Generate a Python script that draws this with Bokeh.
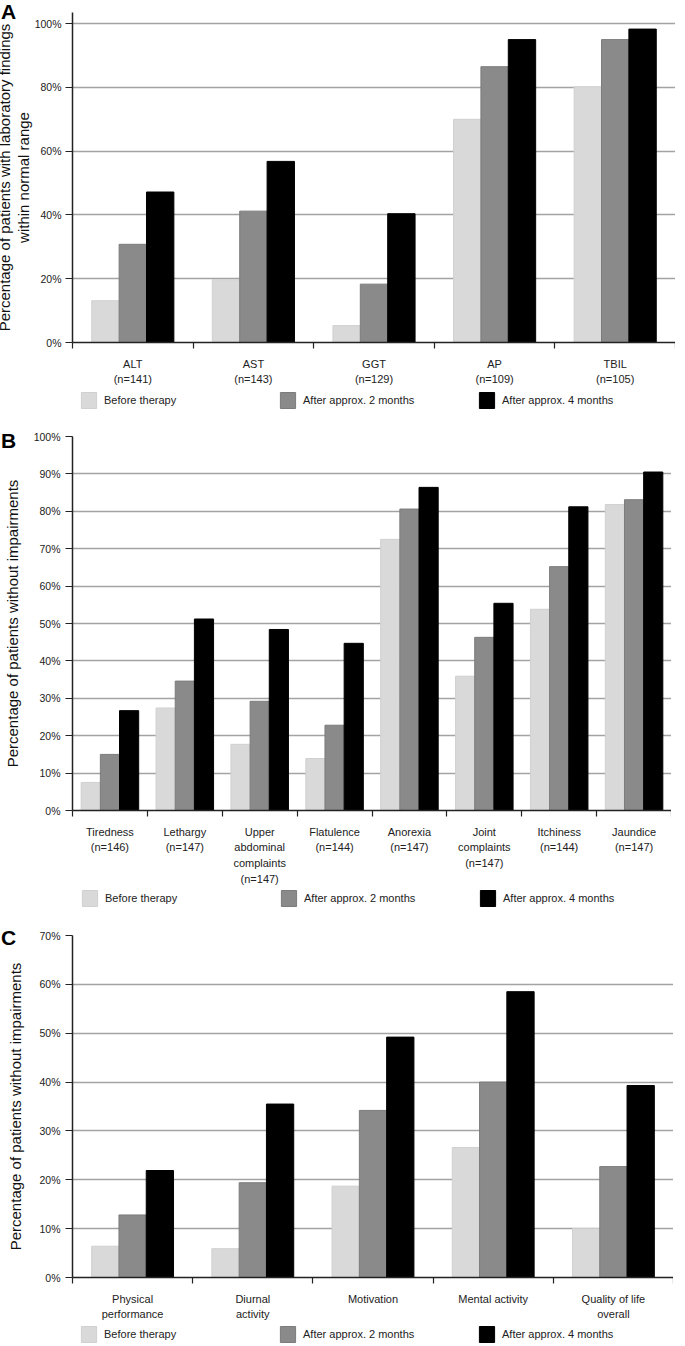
import numpy as np
from bokeh.plotting import figure
from bokeh.models import (Range1d, FixedTicker, PrintfTickFormatter, Legend,
                          LegendItem, ColumnDataSource, Div)
from bokeh.layouts import column
from bokeh.transform import dodge
from bokeh.embed import file_html
from bokeh.resources import INLINE

FONT = "Liberation Sans"

series = ["Before therapy", "After approx. 2 months", "After approx. 4 months"]
colors = ["#d9d9d9", "#8a8a8a", "#000000"]
line_colors = ["#d0d0d0", "#7c7c7c", "#000000"]
keys = ["before", "m2", "m4"]

# Panel A: laboratory findings within normal range (%)
a_cats = ["ALT\n(n=141)", "AST\n(n=143)", "GGT\n(n=129)", "AP\n(n=109)", "TBIL\n(n=105)"]
a_before = [13.1, 19.7, 5.3, 70.0, 80.2]
a_2m = [30.8, 41.2, 18.3, 86.5, 95.0]
a_4m = [47.2, 56.8, 40.4, 95.0, 98.3]
a_ticks = [0, 20, 40, 60, 80, 100]

# Panel B: patients without impairments (%)
b_cats = ["Tiredness\n(n=146)", "Lethargy\n(n=147)", "Upper\nabdominal\ncomplaints\n(n=147)",
          "Flatulence\n(n=144)", "Anorexia\n(n=147)", "Joint\ncomplaints\n(n=147)",
          "Itchiness\n(n=144)", "Jaundice\n(n=147)"]
b_before = [7.5, 27.4, 17.7, 13.9, 72.5, 35.9, 53.8, 81.8]
b_2m = [15.0, 34.6, 29.2, 22.8, 80.6, 46.3, 65.2, 83.1]
b_4m = [26.7, 51.2, 48.4, 44.7, 86.4, 55.4, 81.2, 90.5]
b_ticks = [0, 10, 20, 30, 40, 50, 60, 70, 80, 90, 100]

# Panel C: patients without impairments (%)
c_cats = ["Physical\nperformance", "Diurnal\nactivity", "Motivation", "Mental activity",
          "Quality of life\noverall"]
c_before = [6.4, 5.9, 18.7, 26.6, 10.0]
c_2m = [12.8, 19.4, 34.2, 40.0, 22.7]
c_4m = [21.9, 35.5, 49.2, 58.5, 39.3]
c_ticks = [0, 10, 20, 30, 40, 50, 60, 70]


def make_source(cats, vals):
    data = {"x": [i + 0.5 for i in range(len(cats))]}
    for k, v in zip(keys, vals):
        data[k] = v
    return ColumnDataSource(data)


def make_panel(cats, src, ticks, y_end, ylabel, bar_w, width, b_left, b_top, frame_h,
               b_bottom, label_standoff, title_lh, tick_standoff):
    n = len(cats)
    centers = [i + 0.5 for i in range(n)]
    p = figure(width=width, height=b_top + frame_h + b_bottom,
               x_range=Range1d(0, n), y_range=Range1d(0, y_end),
               output_backend="svg", toolbar_location=None,
               min_border_left=b_left, min_border_right=0,
               min_border_top=b_top, min_border_bottom=b_bottom)
    p.outline_line_color = None
    p.background_fill_color = "white"

    for i, k in enumerate(keys):
        p.vbar(x=dodge("x", (i - 1) * bar_w, range=p.x_range), top=k, width=bar_w,
               source=src, fill_color=colors[i], line_color=line_colors[i], line_width=1)

    ya = p.yaxis[0]
    ya.ticker = FixedTicker(ticks=ticks, minor_ticks=[])
    ya.formatter = PrintfTickFormatter(format="%d%%")
    ya.axis_line_color = "#222222"
    ya.axis_line_width = 1.5
    ya.major_tick_line_color = "#222222"
    ya.major_tick_line_width = 1.2
    ya.major_tick_out = 7
    ya.major_tick_in = 0
    ya.minor_tick_line_color = None
    ya.major_label_text_font = FONT
    ya.major_label_text_font_size = "10.5px"
    ya.major_label_text_color = "#222222"
    ya.major_label_standoff = tick_standoff
    ya.axis_label = ylabel
    ya.axis_label_text_font = FONT
    ya.axis_label_text_font_style = "normal"
    ya.axis_label_text_font_size = "15px"
    ya.axis_label_text_line_height = title_lh
    ya.axis_label_text_color = "#111111"
    ya.axis_label_standoff = label_standoff

    xa = p.xaxis[0]
    xa.ticker = FixedTicker(ticks=centers, minor_ticks=list(range(n + 1)))
    xa.major_label_overrides = {c: lab for c, lab in zip(centers, cats)}
    xa.axis_line_color = "#222222"
    xa.axis_line_width = 1.5
    xa.major_tick_line_color = None
    xa.major_tick_out = 6
    xa.major_tick_in = 0
    xa.minor_tick_line_color = "#222222"
    xa.minor_tick_line_width = 1.2
    xa.minor_tick_out = 6
    xa.minor_tick_in = 0
    xa.major_label_text_font = FONT
    xa.major_label_text_font_size = "11px"
    xa.major_label_text_color = "#222222"
    xa.major_label_text_line_height = 1.33
    xa.major_label_standoff = 9

    p.xgrid.visible = False
    p.ygrid.grid_line_color = "#a3a3a3"
    p.ygrid.grid_line_width = 1.6
    return p


def legend_fig(src, width, b_left, dx):
    # same series as the panel, drawn outside the visible x range: only the legend shows
    lf = figure(width=width, height=20, x_range=Range1d(-100, -99), y_range=Range1d(0, 1),
                x_axis_location=None, y_axis_location=None,
                output_backend="svg", toolbar_location=None,
                min_border_left=b_left, min_border_right=0,
                min_border_top=0, min_border_bottom=0)
    lf.outline_line_color = None
    lf.grid.visible = False
    rs = [lf.vbar(x="x", top=k, width=0.2, source=src, fill_color=c, line_color=lc,
                  line_width=1)
          for k, c, lc in zip(keys, colors, line_colors)]
    legend = Legend(items=[LegendItem(label=s, renderers=[r]) for s, r in zip(series, rs)],
                    location=(dx, 0), orientation="horizontal",
                    glyph_width=19, glyph_height=20, label_height=20,
                    label_standoff=6, label_width=170, spacing=4,
                    padding=0, margin=0, border_line_color=None,
                    background_fill_alpha=0,
                    label_text_font=FONT, label_text_font_size="11px",
                    label_text_color="#222222")
    lf.add_layout(legend)
    return lf


def letter_div(letter, top):
    return Div(text=letter, width=22, height=18,
               styles={"position": "absolute", "top": f"{top}px", "left": "4px",
                       "font-family": FONT, "font-weight": "bold", "font-size": "21px",
                       "line-height": "18px", "color": "#000000", "z-index": "5"})


srcA = make_source(a_cats, [a_before, a_2m, a_4m])
srcB = make_source(b_cats, [b_before, b_2m, b_4m])
srcC = make_source(c_cats, [c_before, c_2m, c_4m])

pA = make_panel(a_cats, srcA, a_ticks, 103.5,
                "Percentage of patients with laboratory findings\nwithin normal range",
                0.227, 683, 79, 12, 330, 48, 0, 1.1, 4)
pB = make_panel(b_cats, srcB, b_ticks, 100,
                "Percentage of patients without impairments",
                0.256, 679, 74, 26, 378, 74, 10, 1.2, 5)
pC = make_panel(c_cats, srcC, c_ticks, 70,
                "Percentage of patients without impairments",
                0.227, 681, 76, 27, 342, 47, 12, 1.2, 5)

layout = column(pA, legend_fig(srcA, 683, 79, 7),
                pB, legend_fig(srcB, 679, 74, 8),
                pC, legend_fig(srcC, 681, 76, 7),
                letter_div("A", -2), letter_div("B", 427), letter_div("C", 924),
                spacing=0, margin=(0, 0, 0, -8))
open("out.html", "w").write(file_html(layout, INLINE))
